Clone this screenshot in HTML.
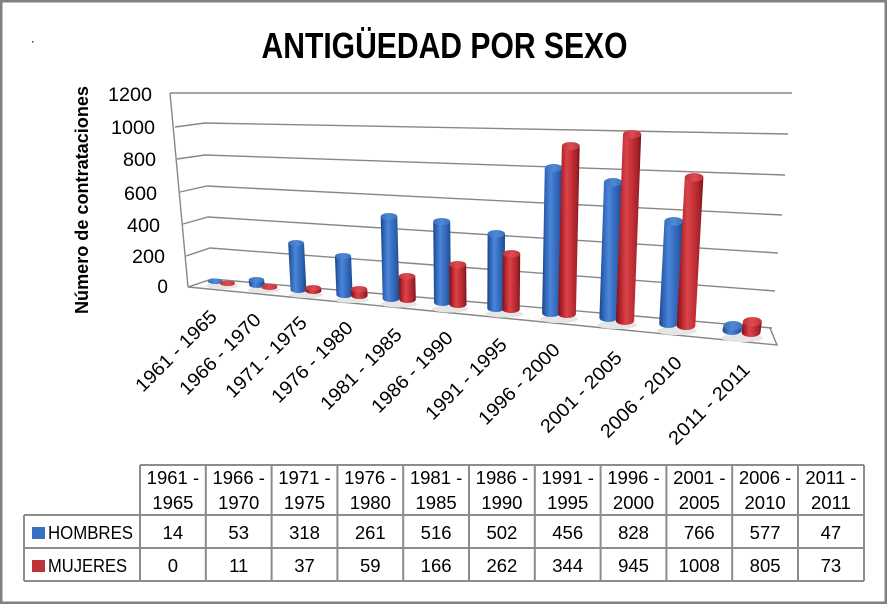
<!DOCTYPE html>
<html><head><meta charset="utf-8"><style>
html,body{margin:0;padding:0;background:#fff;}
svg{display:block;}
text{font-family:"Liberation Sans",sans-serif;fill:#000;}
</style></head><body>
<svg width="888" height="605" viewBox="0 0 888 605" xmlns="http://www.w3.org/2000/svg">
<defs>
<linearGradient id="gb" x1="0" y1="0" x2="1" y2="0">
<stop offset="0" stop-color="#1c4584"/><stop offset="0.2" stop-color="#3369bd"/><stop offset="0.4" stop-color="#4b86d6"/><stop offset="0.6" stop-color="#3a72c6"/><stop offset="0.85" stop-color="#2a5ba8"/><stop offset="1" stop-color="#1c4584"/>
</linearGradient>
<linearGradient id="gr" x1="0" y1="0" x2="1" y2="0">
<stop offset="0" stop-color="#74131a"/><stop offset="0.2" stop-color="#b8262d"/><stop offset="0.4" stop-color="#d84449"/><stop offset="0.6" stop-color="#c93439"/><stop offset="0.85" stop-color="#a8222a"/><stop offset="1" stop-color="#74131a"/>
</linearGradient>
<linearGradient id="tb" x1="0" y1="0" x2="1" y2="0"><stop offset="0" stop-color="#3a70c0"/><stop offset="0.5" stop-color="#5088d4"/><stop offset="1" stop-color="#3a70c0"/></linearGradient>
<linearGradient id="tr" x1="0" y1="0" x2="1" y2="0"><stop offset="0" stop-color="#c0333a"/><stop offset="0.5" stop-color="#dc4c50"/><stop offset="1" stop-color="#c0333a"/></linearGradient>
</defs>
<rect x="0" y="0" width="888" height="605" fill="#fff"/>
<rect x="1.25" y="1.25" width="884.5" height="601.5" fill="none" stroke="#808080" stroke-width="2.5"/>
<rect x="32" y="41" width="1.5" height="1.5" fill="#444"/>

<!-- title -->
<text x="444.5" y="58" font-size="36" font-weight="bold" text-anchor="middle" textLength="366" lengthAdjust="spacingAndGlyphs">ANTIGÜEDAD POR SEXO</text>

<!-- y axis title -->
<text transform="translate(88,200) rotate(-90)" font-size="18.5" font-weight="bold" text-anchor="middle" textLength="228" lengthAdjust="spacingAndGlyphs">Número de contrataciones</text>

<!-- y tick labels -->
<g font-size="19" text-anchor="end">
<text x="152" y="101" textLength="44" lengthAdjust="spacingAndGlyphs">1200</text>
<text x="155" y="134" textLength="44" lengthAdjust="spacingAndGlyphs">1000</text>
<text x="156" y="166" textLength="33" lengthAdjust="spacingAndGlyphs">800</text>
<text x="157" y="200" textLength="33" lengthAdjust="spacingAndGlyphs">600</text>
<text x="160" y="232" textLength="33" lengthAdjust="spacingAndGlyphs">400</text>
<text x="165" y="263" textLength="33" lengthAdjust="spacingAndGlyphs">200</text>
<text x="168" y="293">0</text>
</g>

<!-- floor -->
<polygon points="188,287 212,279 772,328 777,345" fill="#fdfdfd"/>
<!-- gridlines -->
<g fill="none" stroke="#878787" stroke-width="1.4">
<polyline points="170,93 792,93"/>
<polyline points="175,127 205,123 788,134"/>
<polyline points="177,159 205,155 785,175"/>
<polyline points="180,192 207,186 782,215"/>
<polyline points="183,224 208,217 778,253"/>
<polyline points="186,256 210,248 775,291"/>
<polyline points="188,287 212,279 772,328"/>
<line x1="170" y1="93" x2="188" y2="287"/>
<polyline points="188,287 777,345 770,328"/>
</g>

<!-- shadows -->
<g fill="#e5e5e5">
<ellipse cx="222" cy="286" rx="16" ry="3"/>
<ellipse cx="264" cy="290" rx="16" ry="3"/>
<ellipse cx="306" cy="295" rx="17" ry="3"/>
<ellipse cx="352" cy="300" rx="17" ry="3"/>
<ellipse cx="399" cy="304" rx="18" ry="3.5"/>
<ellipse cx="450" cy="309" rx="18" ry="3.5"/>
<ellipse cx="504" cy="314" rx="19" ry="3.5"/>
<ellipse cx="559" cy="319" rx="19" ry="4"/>
<ellipse cx="617" cy="325" rx="20" ry="4"/>
<ellipse cx="677" cy="331" rx="20" ry="4"/>
<ellipse cx="742" cy="338" rx="21" ry="4"/>
</g>

<!-- bars -->
<path d="M207.7,281.1 L208,281.4 A7.5 2.6 0 0 0 223,281.4 L222.7,281.1 Z" fill="url(#gb)"/>
<ellipse cx="215.3" cy="281.1" rx="7.5" ry="2.6" fill="url(#tb)"/>
<path d="M220,283.2 L220,283.4 A7.5 2.6 0 0 0 235,283.4 L235,283.2 Z" fill="url(#gr)"/>
<ellipse cx="227.5" cy="283.2" rx="7.5" ry="2.6" fill="url(#tr)"/>

<path d="M248.7,279.8 L249.3,285.2 A7.7 2.8 0 0 0 264.7,285.2 L264.1,279.8 Z" fill="url(#gb)"/>
<ellipse cx="256.4" cy="279.8" rx="7.7" ry="2.8" fill="url(#tb)"/>
<path d="M261.8,286.6 L261.8,287.2 A7.7 2.8 0 0 0 277.2,287.2 L277.2,286.6 Z" fill="url(#gr)"/>
<ellipse cx="269.5" cy="286.6" rx="7.7" ry="2.8" fill="url(#tr)"/>

<path d="M288.2,243 L290.6,290 A7.9 3 0 0 0 306.4,290 L304,243 Z" fill="url(#gb)"/>
<ellipse cx="296.1" cy="243" rx="7.9" ry="3" fill="url(#tb)"/>
<path d="M305.2,288 L305.6,291 A7.9 3 0 0 0 321.4,291 L321,288 Z" fill="url(#gr)"/>
<ellipse cx="313.1" cy="288" rx="7.9" ry="3" fill="url(#tr)"/>

<path d="M334.9,256.2 L336.4,294.8 A8.1 3.2 0 0 0 352.6,294.8 L351.1,256.2 Z" fill="url(#gb)"/>
<ellipse cx="343" cy="256.2" rx="8.1" ry="3.2" fill="url(#tb)"/>
<path d="M351,289.2 L351.4,295.8 A8.1 3.2 0 0 0 367.6,295.8 L367.2,289.2 Z" fill="url(#gr)"/>
<ellipse cx="359.1" cy="289.2" rx="8.1" ry="3.2" fill="url(#tr)"/>

<path d="M380.7,216.4 L382.7,298.6 A8.3 3.4 0 0 0 399.3,298.6 L397.3,216.4 Z" fill="url(#gb)"/>
<ellipse cx="389" cy="216.4" rx="8.3" ry="3.4" fill="url(#tb)"/>
<path d="M398.7,276.4 L399.2,299.6 A8.3 3.4 0 0 0 415.8,299.6 L415.3,276.4 Z" fill="url(#gr)"/>
<ellipse cx="407" cy="276.4" rx="8.3" ry="3.4" fill="url(#tr)"/>

<path d="M433.2,221.6 L434,302.4 A8.5 3.6 0 0 0 451,302.4 L450.2,221.6 Z" fill="url(#gb)"/>
<ellipse cx="441.7" cy="221.6" rx="8.5" ry="3.6" fill="url(#tb)"/>
<path d="M449.2,264.6 L449.5,304.4 A8.5 3.6 0 0 0 466.5,304.4 L466.2,264.6 Z" fill="url(#gr)"/>
<ellipse cx="457.7" cy="264.6" rx="8.5" ry="3.6" fill="url(#tr)"/>

<path d="M487.6,233.8 L487.3,308.2 A8.7 3.8 0 0 0 504.7,308.2 L505,233.8 Z" fill="url(#gb)"/>
<ellipse cx="496.3" cy="233.8" rx="8.7" ry="3.8" fill="url(#tb)"/>
<path d="M502.8,253.8 L502.3,309.2 A8.7 3.8 0 0 0 519.7,309.2 L520.2,253.8 Z" fill="url(#gr)"/>
<ellipse cx="511.5" cy="253.8" rx="8.7" ry="3.8" fill="url(#tr)"/>

<path d="M544.8,168 L542.1,313 A8.9 4 0 0 0 559.9,313 L562.6,168 Z" fill="url(#gb)"/>
<ellipse cx="553.7" cy="168" rx="8.9" ry="4" fill="url(#tb)"/>
<path d="M561.9,146 L558.1,314 A8.9 4 0 0 0 575.9,314 L579.7,146 Z" fill="url(#gr)"/>
<ellipse cx="570.8" cy="146" rx="8.9" ry="4" fill="url(#tr)"/>

<path d="M604,182.2 L599.4,317.8 A9.1 4.2 0 0 0 617.6,317.8 L622.2,182.2 Z" fill="url(#gb)"/>
<ellipse cx="613.1" cy="182.2" rx="9.1" ry="4.2" fill="url(#tb)"/>
<path d="M623,134.2 L615.9,320.8 A9.1 4.2 0 0 0 634.1,320.8 L641.2,134.2 Z" fill="url(#gr)"/>
<ellipse cx="632.1" cy="134.2" rx="9.1" ry="4.2" fill="url(#tr)"/>

<path d="M664.4,221.4 L659.2,323.6 A9.3 4.4 0 0 0 677.8,323.6 L683,221.4 Z" fill="url(#gb)"/>
<ellipse cx="673.7" cy="221.4" rx="9.3" ry="4.4" fill="url(#tb)"/>
<path d="M684.8,177.4 L676.7,325.6 A9.3 4.4 0 0 0 695.3,325.6 L703.4,177.4 Z" fill="url(#gr)"/>
<ellipse cx="694.1" cy="177.4" rx="9.3" ry="4.4" fill="url(#tr)"/>

<path d="M723.4,325.6 L722.5,330.4 A9.5 4.6 0 0 0 741.5,330.4 L742.4,325.6 Z" fill="url(#gb)"/>
<ellipse cx="732.9" cy="325.6" rx="9.5" ry="4.6" fill="url(#tb)"/>
<path d="M742.9,321.6 L741.5,332.4 A9.5 4.6 0 0 0 760.5,332.4 L761.9,321.6 Z" fill="url(#gr)"/>
<ellipse cx="752.4" cy="321.6" rx="9.5" ry="4.6" fill="url(#tr)"/>

<!-- category labels -->
<g font-size="19" text-anchor="end">
<text transform="translate(218,318) rotate(-45)" textLength="106" lengthAdjust="spacingAndGlyphs">1961 - 1965</text>
<text transform="translate(262,321) rotate(-45)" textLength="106" lengthAdjust="spacingAndGlyphs">1966 - 1970</text>
<text transform="translate(308,324) rotate(-45)" textLength="106" lengthAdjust="spacingAndGlyphs">1971 - 1975</text>
<text transform="translate(354,329) rotate(-45)" textLength="106" lengthAdjust="spacingAndGlyphs">1976 - 1980</text>
<text transform="translate(403,336) rotate(-45)" textLength="106" lengthAdjust="spacingAndGlyphs">1981 - 1985</text>
<text transform="translate(454,339) rotate(-45)" textLength="106" lengthAdjust="spacingAndGlyphs">1986 - 1990</text>
<text transform="translate(508,346) rotate(-45)" textLength="106" lengthAdjust="spacingAndGlyphs">1991 - 1995</text>
<text transform="translate(561,351) rotate(-45)" textLength="106" lengthAdjust="spacingAndGlyphs">1996 - 2000</text>
<text transform="translate(623,359) rotate(-45)" textLength="106" lengthAdjust="spacingAndGlyphs">2001 - 2005</text>
<text transform="translate(683,364) rotate(-45)" textLength="106" lengthAdjust="spacingAndGlyphs">2006 - 2010</text>
<text transform="translate(751,371) rotate(-45)" textLength="106" lengthAdjust="spacingAndGlyphs">2011 - 2011</text>
</g>

<!-- data table -->
<g stroke="#8c8c8c" stroke-width="2" fill="none">
<line x1="140" y1="465" x2="864" y2="465"/>
<line x1="24" y1="515" x2="864" y2="515"/>
<line x1="24" y1="548" x2="864" y2="548"/>
<line x1="24" y1="581" x2="864" y2="581"/>
<line x1="24" y1="515" x2="24" y2="581"/>
<line x1="140" y1="465" x2="140" y2="581"/>
<line x1="205.8" y1="465" x2="205.8" y2="581"/>
<line x1="271.6" y1="465" x2="271.6" y2="581"/>
<line x1="337.4" y1="465" x2="337.4" y2="581"/>
<line x1="403.2" y1="465" x2="403.2" y2="581"/>
<line x1="469" y1="465" x2="469" y2="581"/>
<line x1="534.8" y1="465" x2="534.8" y2="581"/>
<line x1="600.6" y1="465" x2="600.6" y2="581"/>
<line x1="666.4" y1="465" x2="666.4" y2="581"/>
<line x1="732.2" y1="465" x2="732.2" y2="581"/>
<line x1="798" y1="465" x2="798" y2="581"/>
<line x1="864" y1="465" x2="864" y2="581"/>
</g>
<rect x="32" y="527" width="13" height="12" fill="#3a70c2"/>
<rect x="32" y="560" width="13" height="12" fill="#c0323a"/>
<g font-size="18">
<text x="48" y="539" textLength="85" lengthAdjust="spacingAndGlyphs">HOMBRES</text>
<text x="48" y="572" textLength="79" lengthAdjust="spacingAndGlyphs">MUJERES</text>
</g>
<g font-size="18.5" text-anchor="middle">
<text x="172.9" y="484">1961 -</text><text x="172.9" y="509">1965</text>
<text x="238.7" y="484">1966 -</text><text x="238.7" y="509">1970</text>
<text x="304.5" y="484">1971 -</text><text x="304.5" y="509">1975</text>
<text x="370.3" y="484">1976 -</text><text x="370.3" y="509">1980</text>
<text x="436.1" y="484">1981 -</text><text x="436.1" y="509">1985</text>
<text x="501.9" y="484">1986 -</text><text x="501.9" y="509">1990</text>
<text x="567.7" y="484">1991 -</text><text x="567.7" y="509">1995</text>
<text x="633.5" y="484">1996 -</text><text x="633.5" y="509">2000</text>
<text x="699.3" y="484">2001 -</text><text x="699.3" y="509">2005</text>
<text x="765.1" y="484">2006 -</text><text x="765.1" y="509">2010</text>
<text x="830.9" y="484">2011 -</text><text x="830.9" y="509">2011</text>

<text x="172.9" y="539">14</text>
<text x="238.7" y="539">53</text>
<text x="304.5" y="539">318</text>
<text x="370.3" y="539">261</text>
<text x="436.1" y="539">516</text>
<text x="501.9" y="539">502</text>
<text x="567.7" y="539">456</text>
<text x="633.5" y="539">828</text>
<text x="699.3" y="539">766</text>
<text x="765.1" y="539">577</text>
<text x="830.9" y="539">47</text>

<text x="172.9" y="572">0</text>
<text x="238.7" y="572">11</text>
<text x="304.5" y="572">37</text>
<text x="370.3" y="572">59</text>
<text x="436.1" y="572">166</text>
<text x="501.9" y="572">262</text>
<text x="567.7" y="572">344</text>
<text x="633.5" y="572">945</text>
<text x="699.3" y="572">1008</text>
<text x="765.1" y="572">805</text>
<text x="830.9" y="572">73</text>
</g>
</svg>
</body></html>
